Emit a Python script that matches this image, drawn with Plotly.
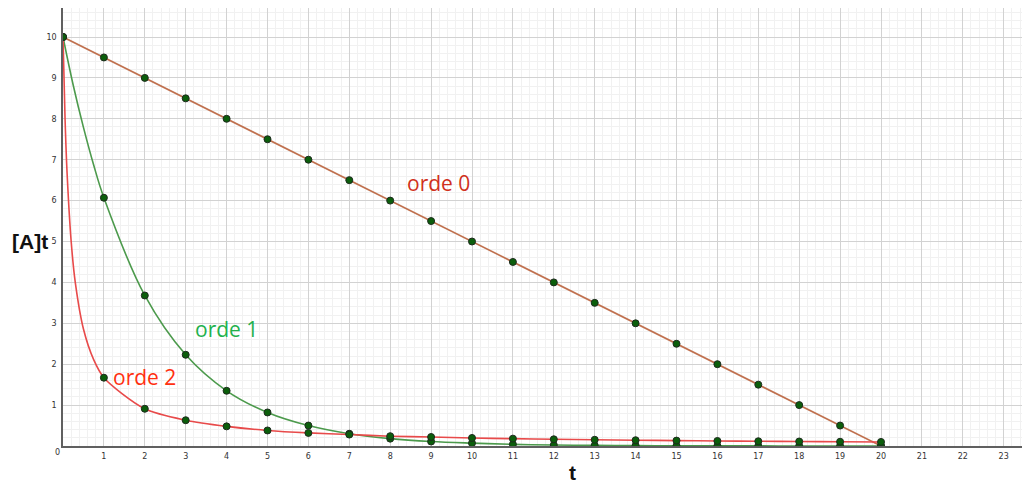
import plotly.graph_objects as go

# ---- data ----
t_points = list(range(0, 21))
order0 = [10, 9.5, 9, 8.5, 8, 7.5, 7, 6.5, 6, 5.5, 5, 4.5, 4, 3.5, 3, 2.5, 2, 1.5, 1, 0.5, 0]
order1 = [10, 6.07, 3.68, 2.23, 1.35, 0.82, 0.50, 0.30, 0.18, 0.11, 0.07, 0.04, 0.025,
          0.015, 0.009, 0.006, 0.003, 0.002, 0.001, 0.0007, 0.0005]
order2 = [10, 1.67, 0.91, 0.63, 0.48, 0.38, 0.32, 0.28, 0.24, 0.22, 0.196, 0.18, 0.164,
          0.152, 0.141, 0.132, 0.123, 0.116, 0.11, 0.104, 0.099]

# extra samples read along the steep part of the curves (between t=0 and t=1)
curve1_t = [0, 0.25, 0.5, 0.75]
curve1_v = [10, 8.82, 7.79, 6.87]
curve2_t = [0, 0.05, 0.1, 0.2, 0.3, 0.5, 0.75]
curve2_v = [10, 8.0, 6.67, 5.0, 4.0, 2.86, 2.11]

labels = ["orde 0", "orde 1", "orde 2"]
x_title = "t"
y_title = "[A]t"
x_ticks = list(range(1, 24))
y_ticks = list(range(1, 11))

c0 = "#c0714f"
c1 = "#4c9a4c"
c2 = "#e84a4a"

fig = go.Figure()

fig.add_trace(go.Scatter(x=t_points, y=order0, mode="lines",
                         line=dict(color=c0, width=1.6), hoverinfo="skip"))
fig.add_trace(go.Scatter(x=curve1_t + t_points[1:], y=curve1_v + order1[1:], mode="lines",
                         line=dict(color=c1, width=1.6, shape="spline", smoothing=1.0),
                         hoverinfo="skip"))
fig.add_trace(go.Scatter(x=curve2_t + t_points[1:], y=curve2_v + order2[1:], mode="lines",
                         line=dict(color=c2, width=1.6, shape="spline", smoothing=0.8),
                         hoverinfo="skip"))

marker = dict(color="#0b5e0b", size=7, line=dict(color="#1e2a1e", width=1))
for vals in (order0, order1, order2):
    fig.add_trace(go.Scatter(x=t_points, y=vals, mode="markers", marker=marker))

x_max = (1022 - 63) / 40.9
y_max = (446 - 8) / 40.9

tickfont = dict(family="DejaVu Sans", size=8, color="#333333")

fig.update_layout(
    width=1022, height=487,
    margin=dict(l=63, r=0, t=8, b=41, autoexpand=False),
    paper_bgcolor="white", plot_bgcolor="white",
    showlegend=False,
    xaxis=dict(range=[0, x_max], tickvals=x_ticks, ticktext=[str(v) for v in x_ticks],
               showgrid=True, gridcolor="#d2d2d2", gridwidth=1,
               minor=dict(dtick=0.2, showgrid=True, gridcolor="#f1f1f1", gridwidth=1),
               showline=True, linecolor="#606060", linewidth=1.5, automargin=False,
               zeroline=False, ticks="", tickfont=tickfont, ticklabelstandoff=2),
    yaxis=dict(range=[0, y_max], tickvals=y_ticks, ticktext=[str(v) for v in y_ticks],
               showgrid=True, gridcolor="#d2d2d2", gridwidth=1,
               minor=dict(dtick=0.2, showgrid=True, gridcolor="#f1f1f1", gridwidth=1),
               showline=True, linecolor="#606060", linewidth=1.5, automargin=False,
               zeroline=False, ticks="", tickfont=tickfont, ticklabelstandoff=3),
)

ann_font = "Open Sans"
fig.add_annotation(x=9.17, y=6.43, text=labels[0], showarrow=False,
                   font=dict(family=ann_font, size=21, color="#d03020"))
fig.add_annotation(x=3.99, y=2.87, text=labels[1], showarrow=False,
                   font=dict(family=ann_font, size=21, color="#22b14c"))
fig.add_annotation(x=2.0, y=1.69, text=labels[2], showarrow=False,
                   font=dict(family=ann_font, size=21, color="#ff3010"))

fig.add_annotation(xref="paper", yref="paper", x=(30 - 63) / 959, y=(446 - 241) / 438,
                   xanchor="center", yanchor="middle",
                   text="<b>" + y_title + "</b>", showarrow=False,
                   font=dict(family="Liberation Sans", size=21, color="#111111"))
fig.add_annotation(xref="paper", yref="paper", x=(572 - 63) / 959, y=(446 - 486) / 438,
                   xanchor="center", yanchor="bottom",
                   text="<b>" + x_title + "</b>", showarrow=False,
                   font=dict(family="Liberation Sans", size=21, color="#111111"))
# origin label
fig.add_annotation(xref="paper", yref="paper", x=(57 - 63) / 959, y=(446 - 453) / 438,
                   xanchor="center", yanchor="middle",
                   text="0", showarrow=False, font=tickfont)

fig.write_html("out.html", config={"displayModeBar": False})

# remove the browser's default page margin so the figure sits at the top-left corner
with open("out.html", "r", encoding="utf-8") as f:
    html = f.read()
html = html.replace("<body>", '<body style="margin:0;padding:0;">', 1)
with open("out.html", "w", encoding="utf-8") as f:
    f.write(html)
